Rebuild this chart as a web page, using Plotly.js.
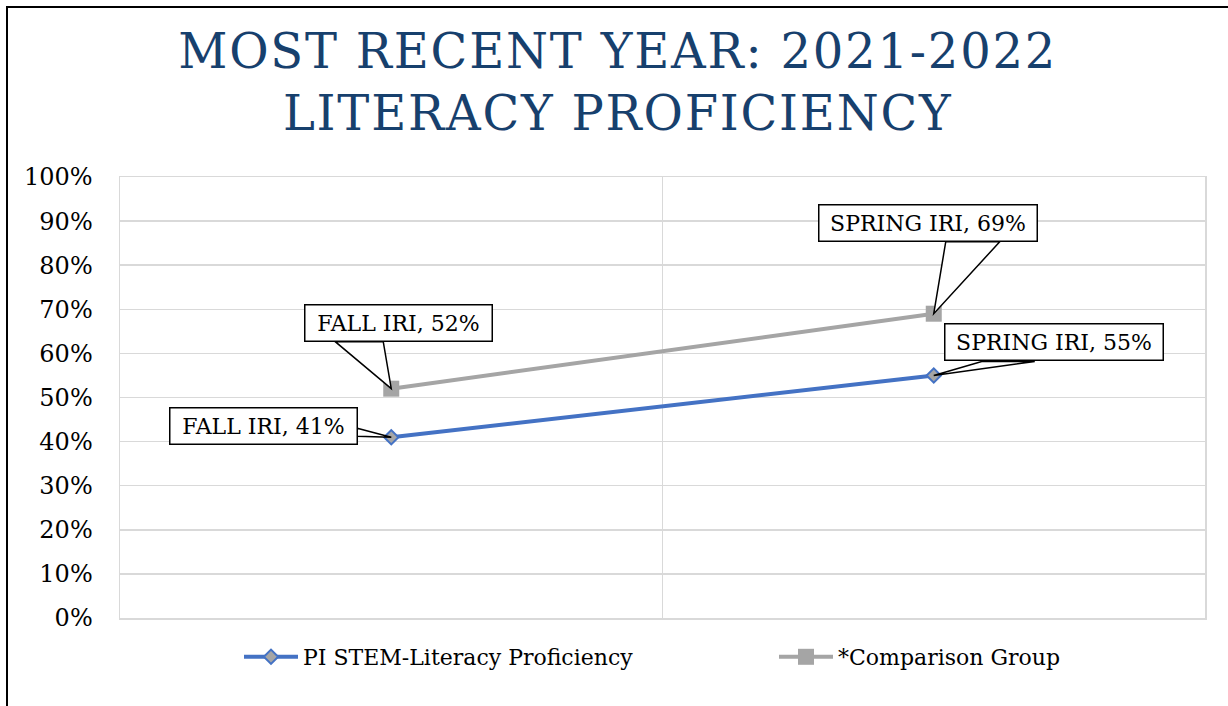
<!DOCTYPE html>
<html>
<head>
<meta charset="utf-8">
<script src="https://cdn.plot.ly/plotly-3.0.1.min.js"></script>
<style>
  html, body { margin: 0; padding: 0; background: #fff; }
  #chart { width: 1228px; height: 706px; }
  .gtitle { letter-spacing: 1.8px; }
</style>
</head>
<body>
<div id="chart"></div>
<script>
// chart values
var terms = ['FALL IRI', 'SPRING IRI'];
var stemValues = [0.41, 0.55];
var comparisonValues = [0.52, 0.69];
var seriesNames = ['PI STEM-Literacy Proficiency', '*Comparison Group'];
var chartTitle = 'MOST RECENT YEAR: 2021-2022<br>LITERACY PROFICIENCY';

// where each callout box sits, in pixels from its point (screen coords, y down)
var stemCallouts = [
    { ax: -128, ay: -11, base: [[-34, -9], [-34, -1]] },
    { ax: 120, ay: -33, base: [[48, -14], [101, -14]] }
];
var compCallouts = [
    { ax: 7, ay: -66, base: [[-56, -47], [-8, -47]] },
    { ax: -6, ay: -91, base: [[12, -72], [66, -72]] }
];
var boxWidths = [178, 209];

var serif = 'DejaVu Serif, Liberation Serif, serif';
var blue = '#4472C4';
var grey = '#A5A5A5';

var stemTrace = {
    x: terms,
    y: stemValues,
    name: seriesNames[0],
    type: 'scatter',
    mode: 'lines+markers',
    line: { color: blue, width: 4 },
    marker: { symbol: 'diamond', size: 11, color: grey, line: { color: blue, width: 2 } },
    legend: 'legend'
};

var compTrace = {
    x: terms,
    y: comparisonValues,
    name: seriesNames[1],
    type: 'scatter',
    mode: 'lines+markers',
    line: { color: grey, width: 4 },
    marker: { symbol: 'square', size: 16, color: grey },
    legend: 'legend2'
};

var annotations = [];
var shapes = [];

function addCallouts(values, callouts) {
    values.forEach(function (v, i) {
        var c = callouts[i];
        annotations.push({
            x: terms[i],
            y: v,
            xref: 'x',
            yref: 'y',
            text: terms[i] + ', ' + Math.round(v * 100) + '%',
            showarrow: true,
            arrowcolor: 'rgba(0,0,0,0)',
            arrowwidth: 0.1,
            ax: c.ax,
            ay: c.ay,
            width: boxWidths[i],
            height: 27,
            bgcolor: '#fff',
            bordercolor: '#000',
            borderwidth: 1.5,
            borderpad: 4,
            font: { family: serif, size: 22, color: '#000' }
        });
        shapes.push({
            type: 'path',
            xref: 'x',
            yref: 'y',
            xsizemode: 'pixel',
            ysizemode: 'pixel',
            xanchor: terms[i],
            yanchor: v,
            path: 'M0,0 L' + c.base[0][0] + ',' + (-c.base[0][1]) +
                  ' L' + c.base[1][0] + ',' + (-c.base[1][1]) + ' Z',
            fillcolor: '#fff',
            line: { color: '#000', width: 1.5 },
            layer: 'above'
        });
    });
}
addCallouts(stemValues, stemCallouts);
addCallouts(comparisonValues, compCallouts);

// outer frame, cut off at the right and bottom like the source image
shapes.push({
    type: 'rect',
    xref: 'paper',
    yref: 'paper',
    x0: (7 - 120) / 1085,
    x1: 1.1,
    y0: -0.4,
    y1: (618 - 7) / 441,
    line: { color: '#000', width: 2 },
    layer: 'below'
});

var legendStyle = function (left) {
    return {
        orientation: 'h',
        x: (left - 120) / 1085,
        xanchor: 'left',
        y: (618 - 657) / 441,
        yanchor: 'middle',
        itemwidth: 54,
        bgcolor: 'rgba(0,0,0,0)',
        font: { family: serif, size: 22, color: '#000' }
    };
};

var layout = {
    width: 1228,
    height: 706,
    margin: { l: 120, r: 23, t: 177, b: 88 },
    paper_bgcolor: '#fff',
    plot_bgcolor: '#fff',
    title: {
        text: chartTitle,
        font: { family: serif, size: 48, color: '#17406D' },
        xref: 'container',
        x: 0.503,
        yref: 'container',
        y: 0.904,
        yanchor: 'top'
    },
    xaxis: {
        type: 'category',
        range: [-0.5, 1.5],
        showticklabels: false,
        tickson: 'boundaries',
        ticks: '',
        showgrid: true,
        gridcolor: '#D9D9D9',
        gridwidth: 1.5,
        showline: true,
        mirror: true,
        linecolor: '#D9D9D9',
        linewidth: 1.5,
        zeroline: false,
        fixedrange: true
    },
    yaxis: {
        range: [0, 1],
        dtick: 0.1,
        tickformat: '.0%',
        ticks: '',
        ticklabelstandoff: 21,
        tickfont: { family: serif, size: 24, color: '#000' },
        showgrid: true,
        gridcolor: '#D9D9D9',
        gridwidth: 1.5,
        showline: true,
        mirror: true,
        linecolor: '#D9D9D9',
        linewidth: 1.5,
        zeroline: false,
        fixedrange: true
    },
    showlegend: true,
    legend: legendStyle(239),
    legend2: legendStyle(774),
    annotations: annotations,
    shapes: shapes
};

Plotly.newPlot('chart', [stemTrace, compTrace], layout, { displayModeBar: false, staticPlot: true });
</script>
</body>
</html>
